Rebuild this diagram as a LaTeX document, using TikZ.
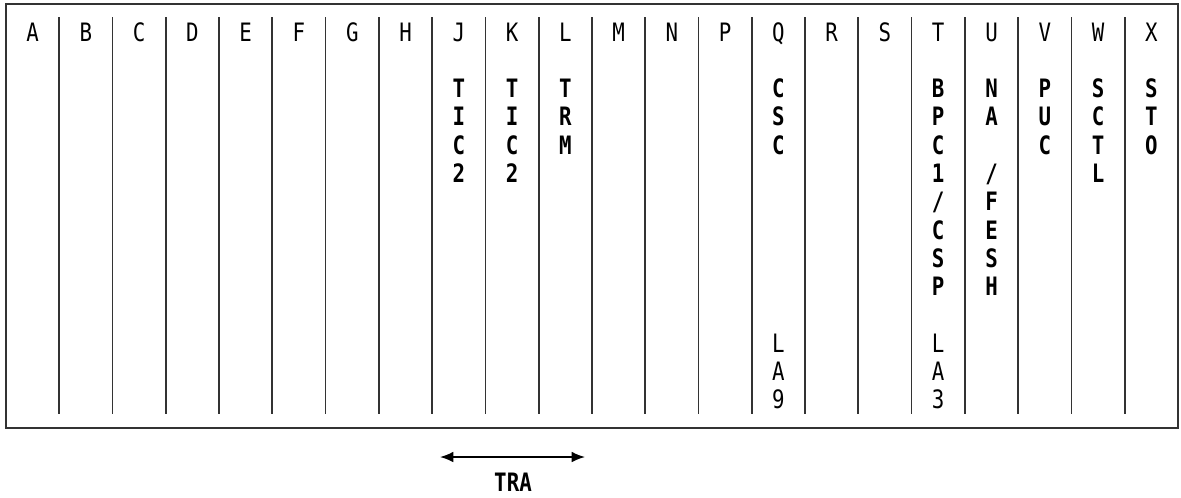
\documentclass[tikz,border=0pt]{standalone}
\usepackage{fontspec}
\newfontfamily\chartmono[FakeStretch=0.82]{DejaVu Sans Mono}
\usetikzlibrary{arrows.meta}

\tikzset{
  hdr/.style={font=\chartmono\fontsize{19}{21}\selectfont,anchor=base,
    inner sep=0pt,text height=14pt,text depth=0pt},
  tag/.style={hdr,font=\chartmono\bfseries\fontsize{19}{21}\selectfont},
  rule/.style={line width=1.3pt,draw=black!80}
}

\begin{document}
\begin{tikzpicture}[x=0.75pt,y=-0.75pt,>={Latex[length=10pt,width=8pt]}]
  \useasboundingbox (0,0) rectangle (1181,497);

  % frame and column dividers
  \draw[rule,line width=1.5pt] (6,4) rectangle (1178,428);
  \foreach \i in {1,...,21}
    \draw[rule] ({6+\i*53.27},17) -- ({6+\i*53.27},414);

  % column letters
  \foreach \c [count=\i] in {A,B,C,D,E,F,G,H,J,K,L,M,N,P,Q,R,S,T,U,V,W,X}
    \node[hdr] (h\c) at ({6+(\i-0.5)*53.27},41) {\c};

  % vertical labels, one character per row
  \foreach \ch [count=\r from 3] in {T,I,C,2}
    \node[tag] (J\r) at ({6+8.5*53.27},{41+(\r-1)*28.3}) {\ch};
  \foreach \ch [count=\r from 3] in {T,I,C,2}
    \node[tag] (K\r) at ({6+9.5*53.27},{41+(\r-1)*28.3}) {\ch};
  \foreach \ch [count=\r from 3] in {T,R,M}
    \node[tag] (L\r) at ({6+10.5*53.27},{41+(\r-1)*28.3}) {\ch};
  \foreach \ch [count=\r from 3] in {C,S,C}
    \node[tag] (Q\r) at ({6+14.5*53.27},{41+(\r-1)*28.3}) {\ch};
  \foreach \ch [count=\r from 12] in {L,A,9}
    \node[hdr] (Q\r) at ({6+14.5*53.27},{41+(\r-1)*28.3}) {\ch};
  \foreach \ch [count=\r from 3] in {B,P,C,1,/,C,S,P}
    \node[tag] (T\r) at ({6+17.5*53.27},{41+(\r-1)*28.3}) {\ch};
  \foreach \ch [count=\r from 12] in {L,A,3}
    \node[hdr] (T\r) at ({6+17.5*53.27},{41+(\r-1)*28.3}) {\ch};
  \foreach \ch [count=\r from 3] in {N,A}
    \node[tag] (U\r) at ({6+18.5*53.27},{41+(\r-1)*28.3}) {\ch};
  \foreach \ch [count=\r from 6] in {/,F,E,S,H}
    \node[tag] (U\r) at ({6+18.5*53.27},{41+(\r-1)*28.3}) {\ch};
  \foreach \ch [count=\r from 3] in {P,U,C}
    \node[tag] (V\r) at ({6+19.5*53.27},{41+(\r-1)*28.3}) {\ch};
  \foreach \ch [count=\r from 3] in {S,C,T,L}
    \node[tag] (W\r) at ({6+20.5*53.27},{41+(\r-1)*28.3}) {\ch};
  \foreach \ch [count=\r from 3] in {S,T,O}
    \node[tag] (X\r) at ({6+21.5*53.27},{41+(\r-1)*28.3}) {\ch};

  % span marker below the frame
  \coordinate (traL) at (440,457);
  \coordinate (traR) at (585,457);
  \draw[<->,line width=1.2pt] (traL) -- (traR);
  \node[tag] (tra) at (513,491) {TRA};
\end{tikzpicture}
\end{document}
